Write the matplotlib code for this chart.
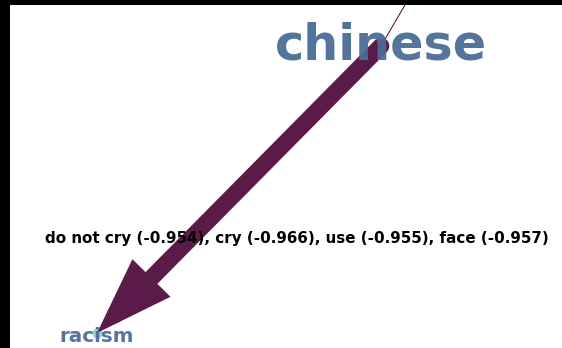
import matplotlib
matplotlib.use("Agg")
import matplotlib.pyplot as plt
from matplotlib.patches import FancyArrowPatch

# nodes (pixel-like layout coordinates, y grows downward)
nodes = ["chinese", "racism", "offscreen"]
node_x = [381, 97, 440]
node_y = [46, 333, -55]
label_size = [35.5, 14.3, 0]
label_dy = [0, 4, 0]

# edges: (source, target, width in points, arrow?)
edges = [("chinese", "racism", 12, True), ("chinese", "offscreen", 0.8, False)]
edge_note = "do not cry (-0.954), cry (-0.966), use (-0.955), face (-0.957)"
note_x, note_y = 297, 239

purple = "#5b1b49"
blue = "#4a6d96"

fig = plt.figure(figsize=(5.62, 3.48), dpi=100, facecolor="black")
ax = fig.add_axes([10 / 562, 0, 1 - 10 / 562, 343 / 348])
ax.set_facecolor("white")
ax.set_xlim(10, 562)
ax.set_ylim(348, 5)
ax.axis("off")
ax.add_patch(plt.Rectangle((10, 5), 552, 343, color="white", zorder=0))

pos = {n: (x, y) for n, x, y in zip(nodes, node_x, node_y)}

for n in nodes[:2]:
    ax.scatter(*pos[n], s=40, color="#9fd3d0", zorder=1)

for src, dst, w, head in edges:
    if head:
        arr = FancyArrowPatch(pos[src], pos[dst],
                              arrowstyle="-|>,head_length=0.55,head_width=0.19",
                              mutation_scale=57, lw=w, color=purple,
                              joinstyle="miter", zorder=2, shrinkA=0, shrinkB=0)
        ax.add_patch(arr)
    else:
        ax.plot([pos[src][0], pos[dst][0]], [pos[src][1], pos[dst][1]],
                color=purple, lw=w, zorder=2)

for n, s, dy in zip(nodes, label_size, label_dy):
    if s:
        ax.text(pos[n][0], pos[n][1] + dy, n, fontsize=s, fontweight="bold",
                color=blue, ha="center", va="center", alpha=0.95, zorder=3)

ax.text(note_x, note_y, edge_note, fontsize=10.9, fontweight="bold", color="black",
        ha="center", va="center", zorder=4)

fig.savefig("out.png", dpi=100, facecolor="black")
